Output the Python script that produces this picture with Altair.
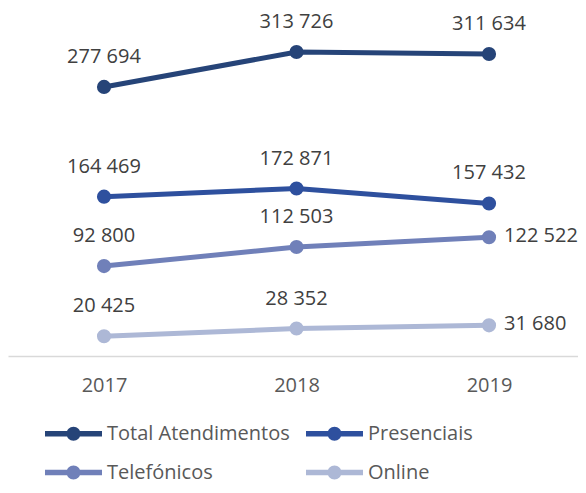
import altair as alt
import pandas as pd

years = ["2017", "2018", "2019"]
series = ["Total Atendimentos", "Presenciais", "Telefónicos", "Online"]
total = [277694, 313726, 311634]
presenciais = [164469, 172871, 157432]
telefonicos = [92800, 112503, 122522]
online = [20425, 28352, 31680]
colors = ["#264478", "#2E509E", "#7080B9", "#ADB8D6"]

rows = []
for name, vals in zip(series, [total, presenciais, telefonicos, online]):
    for y, v in zip(years, vals):
        rows.append({"year": y, "series": name, "value": v})
df = pd.DataFrame(rows)

FONT = "Open Sans"

legend_path = ("M-1,-0.093L1,-0.093L1,0.093L-1,0.093Z "
               "M-0.245,0A0.245,0.245 0 1,1 0.245,0A0.245,0.245 0 1,1 -0.245,0Z")

x = alt.X("year:N", sort=years, title=None,
          scale=alt.Scale(type="point", padding=0.4805, align=0.519),
          axis=alt.Axis(labelAngle=0, ticks=False, grid=False, domainColor="#D9D9D9",
                        domainWidth=1.5, labelFont=FONT, labelFontSize=20,
                        labelColor="#595959", labelPadding=19))
y = alt.Y("value:Q", axis=None, scale=alt.Scale(domain=[0, 354000], nice=False, zero=True))
color = alt.Color("series:N", sort=series,
                  scale=alt.Scale(domain=series, range=colors),
                  legend=alt.Legend(title=None, orient="none", legendX=37, legendY=392,
                                    direction="horizontal", columns=2,
                                    symbolType=legend_path, symbolSize=3249,
                                    symbolStrokeWidth=0, symbolOpacity=1,
                                    labelFont=FONT, labelFontSize=20, labelColor="#595959",
                                    labelOffset=5, columnPadding=16, rowPadding=-22,
                                    labelLimit=400))

base = alt.Chart(df).encode(x=x, y=y, color=color)

lines = base.mark_line(strokeWidth=5)
points = base.mark_point(filled=True, size=200, opacity=1)

labels = alt.Chart(df).transform_calculate(
    label="replace(format(datum.value, ','), ',', ' ')"
).encode(x=x, y=y, text="label:N")

cond_right = "datum.year == '2019' && (datum.series == 'Telefónicos' || datum.series == 'Online')"

above = labels.transform_filter("!(" + cond_right + ")").mark_text(
    font=FONT, fontSize=20, color="#404040", dy=-30, baseline="middle", align="center")
right = labels.transform_filter(cond_right).mark_text(
    font=FONT, fontSize=20, color="#404040", dx=15, dy=-1, baseline="middle", align="left")

chart = alt.layer(lines, points, above, right).properties(
    width=570, height=343,
    autosize=alt.AutoSizeParams(type="none"),
    padding={"left": 0, "right": 0, "top": 5, "bottom": 128},
).configure_view(stroke=None)

chart.save("out.html", embed_options={"renderer": "svg", "actions": False})
